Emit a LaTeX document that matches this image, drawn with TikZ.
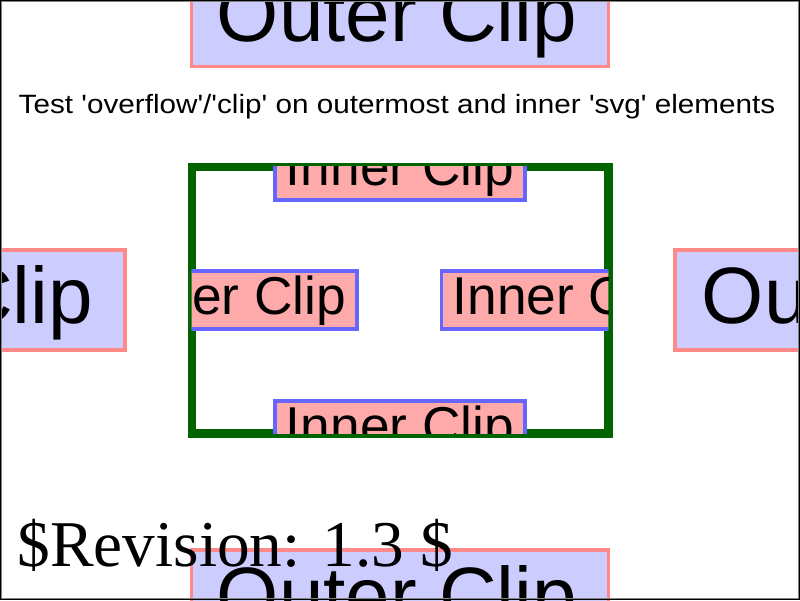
\documentclass[tikz,border=0pt]{standalone}
\usepackage{fontspec}
\setmainfont{Liberation Sans}
\newfontfamily\timesfont{Liberation Serif}
\definecolor{outerfill}{HTML}{CCCCFF}
\definecolor{outerline}{HTML}{FF8888}
\definecolor{innerfill}{HTML}{FFAAAA}
\definecolor{innerline}{HTML}{6666FF}
\definecolor{frameline}{RGB}{0,100,0}
\newcommand{\sq}{\textquotesingle}
\tikzset{
  outerbox/.style={fill=outerfill, draw=outerline, line width=3.3pt},
  innerbox/.style={fill=innerfill, draw=innerline, line width=3.3pt},
  bigtext/.style={inner sep=0pt, anchor=base, font=\fontsize{80}{90}\selectfont},
  midtext/.style={inner sep=0pt, anchor=base, font=\fontsize{53.3}{60}\selectfont},
}
\begin{document}
\begin{tikzpicture}[x=1pt, y=-1pt]
\useasboundingbox (0,0) rectangle (800,600);
\begin{scope}
  \clip (0,0) rectangle (800,600);
  \fill[white] (0,0) rectangle (800,600);
  % outer boxes, cut by the page edge
  \draw[outerbox] (191.67,-33.33) rectangle (608.33,66.67);
  \node[bigtext] (otop) at (397,41.7) {Outer Clip};
  \draw[outerbox] (-291.67,250) rectangle (125,350);
  \node[bigtext] (oleft) at (-87,323) {Outer Clip};
  \draw[outerbox] (675,250) rectangle (1091.67,350);
  \node[bigtext] (oright) at (882,323) {Outer Clip};
  \draw[outerbox] (191.67,550) rectangle (608.33,650);
  \node[bigtext] (obottom) at (397,623) {Outer Clip};
  % title
  \node[inner sep=0pt, anchor=base, font=\fontsize{26.5}{30}\selectfont] (title) at (397,113.3)
    {\scalebox{1.12}[1]{Test \sq overflow\sq/\sq clip\sq{} on outermost and inner \sq svg\sq{} elements}};
  % inner viewport outline
  \draw[frameline, line width=8.33pt] (191.67,166.67) rectangle (608.33,433.33);
  % inner boxes, cut by the inner viewport
  \begin{scope}
    \clip (191.67,166.67) rectangle (608.33,433.33);
    \draw[innerbox] (275,142) rectangle (525,200);
    \node[midtext] (itop) at (400,185) {Inner Clip};
    \draw[innerbox] (107,271) rectangle (357,329);
    \node[midtext] (ileft) at (232,314) {Inner Clip};
    \draw[innerbox] (441.7,271) rectangle (691.7,329);
    \node[midtext] (iright) at (566.7,314) {Inner Clip};
    \draw[innerbox] (275,401) rectangle (525,459);
    \node[midtext] (ibottom) at (400,444) {Inner Clip};
  \end{scope}
  % revision tag
  \node[inner sep=0pt, anchor=base west, font=\timesfont\fontsize{65.3}{70}\selectfont] (rev) at (17.5,566.7)
    {\$Revision: 1.3 \$};
  % page frame
  \draw[black, line width=1pt] (0.5,0.5) rectangle (799.5,599.5);
  \draw[gray, line width=1pt] (1.5,1.5) rectangle (798.5,598.5);
\end{scope}
\end{tikzpicture}
\end{document}
